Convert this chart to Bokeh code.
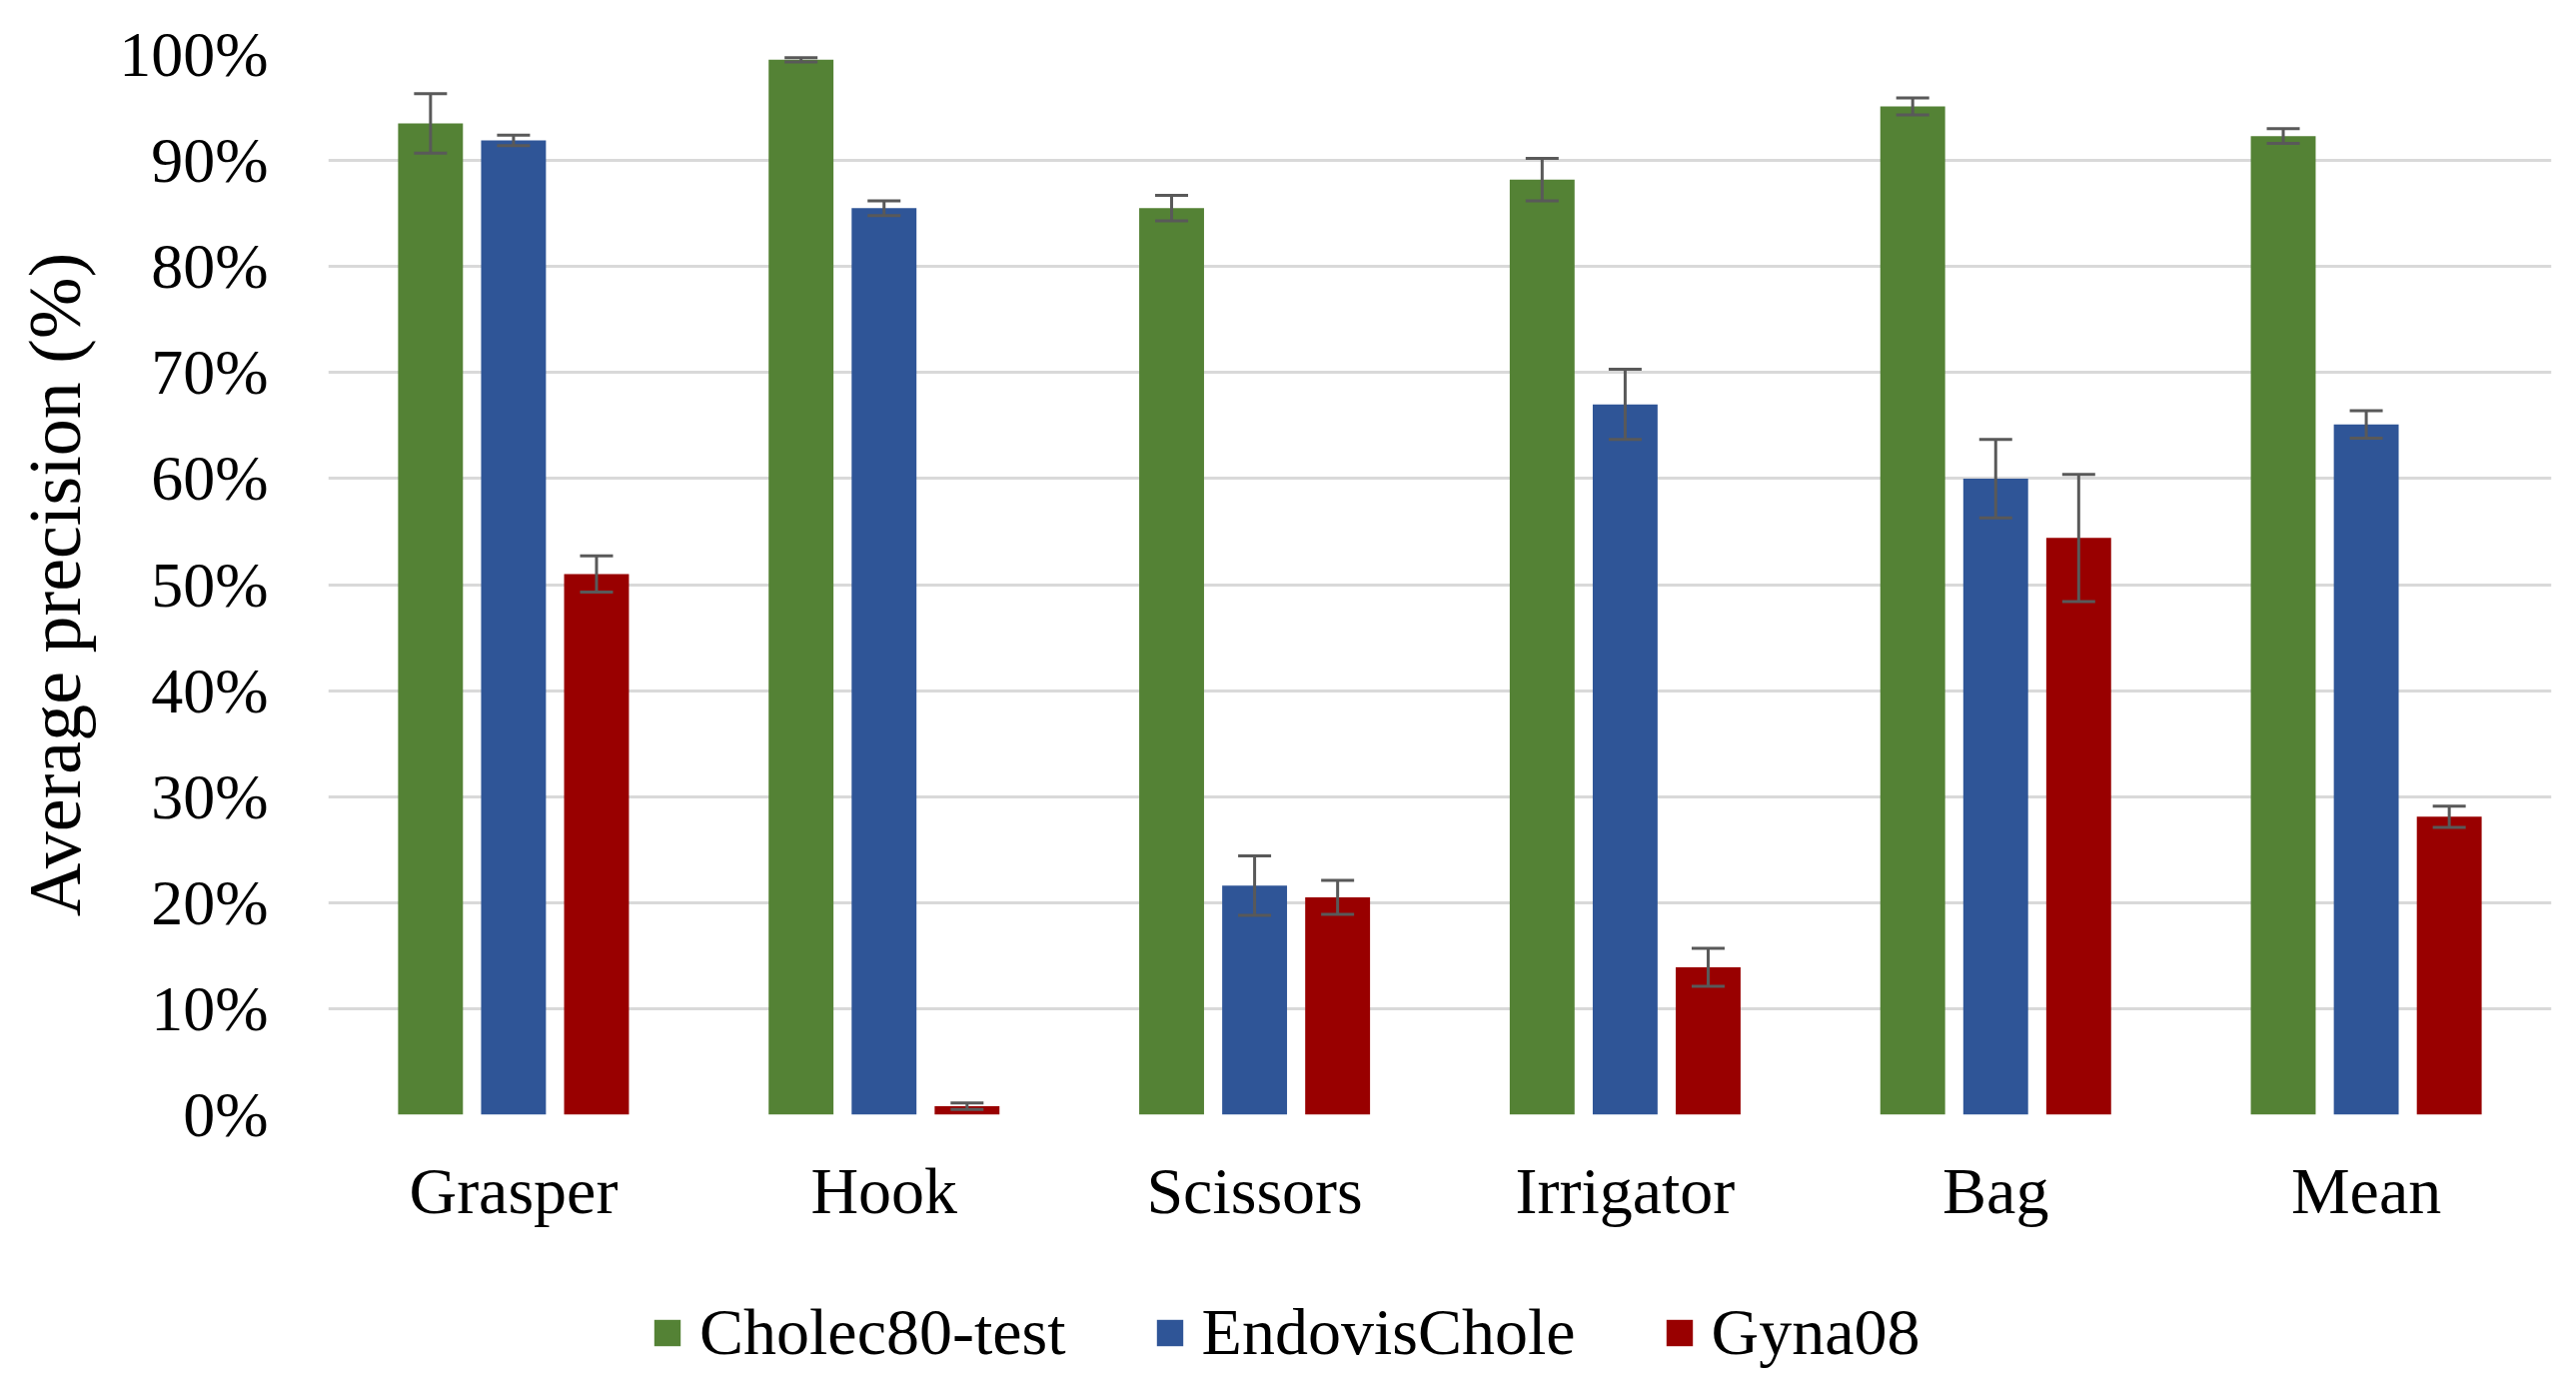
from bokeh.plotting import figure
from bokeh.layouts import column
from bokeh.models import (ColumnDataSource, FactorRange, Range1d, FixedTicker,
                          PrintfTickFormatter, Whisker, TeeHead, Legend, LegendItem)
from bokeh.transform import dodge
from bokeh.embed import file_html
from bokeh.resources import INLINE

# ---- data ----
categories = ["Grasper", "Hook", "Scissors", "Irrigator", "Bag", "Mean"]
series_names = ["Cholec80-test", "EndovisChole", "Gyna08"]
cholec = [93.5, 99.5, 85.5, 88.2, 95.1, 92.3]
cholec_err = [2.8, 0.2, 1.2, 2.0, 0.8, 0.7]
endovis = [91.9, 85.5, 21.6, 67.0, 60.0, 65.1]
endovis_err = [0.5, 0.7, 2.8, 3.3, 3.7, 1.3]
gyna = [51.0, 0.8, 20.5, 13.9, 54.4, 28.1]
gyna_err = [1.7, 0.3, 1.6, 1.8, 6.0, 1.0]
y_ticks = [0, 10, 20, 30, 40, 50, 60, 70, 80, 90, 100]

colors = ["#548235", "#2F5597", "#990000"]
FONT = "Liberation Serif"

src = ColumnDataSource(data=dict(
    cats=categories,
    c=cholec, c_up=[v + e for v, e in zip(cholec, cholec_err)], c_lo=[v - e for v, e in zip(cholec, cholec_err)],
    e=endovis, e_up=[v + e for v, e in zip(endovis, endovis_err)], e_lo=[v - e for v, e in zip(endovis, endovis_err)],
    g=gyna, g_up=[v + e for v, e in zip(gyna, gyna_err)], g_lo=[v - e for v, e in zip(gyna, gyna_err)],
))

W = 2560
H1 = 1230
H2 = 144

p = figure(width=W, height=H1, x_range=FactorRange(*categories),
           y_range=Range1d(0, 100), output_backend="svg", toolbar_location=None,
           min_border_left=328, min_border_right=7, min_border_top=54,
           min_border_bottom=H1 - 1115)
p.background_fill_color = "white"
p.border_fill_color = "white"
p.outline_line_color = None

offsets = [-0.224, 0.0, 0.224]
keys = ["c", "e", "g"]
for k, off, col in zip(keys, offsets, colors):
    p.vbar(x=dodge("cats", off, range=p.x_range), top=k, width=0.175,
           source=src, fill_color=col, line_color=None)
    w = Whisker(base=dodge("cats", off, range=p.x_range), upper=k + "_up", lower=k + "_lo",
                source=src, line_color="#595959", line_width=3, level="overlay",
                upper_head=TeeHead(size=33, line_color="#595959", line_width=3),
                lower_head=TeeHead(size=33, line_color="#595959", line_width=3))
    p.add_layout(w)

# grid
p.xgrid.grid_line_color = None
p.ygrid.grid_line_color = "#D9D9D9"
p.ygrid.grid_line_width = 3

# y axis
p.yaxis.ticker = FixedTicker(ticks=y_ticks)
p.yaxis.formatter = PrintfTickFormatter(format="%d%%")
p.yaxis.axis_line_color = None
p.yaxis.major_tick_line_color = None
p.yaxis.minor_tick_line_color = None
p.yaxis.major_tick_out = 0
p.yaxis.major_tick_in = 0
p.yaxis.major_label_standoff = 60
p.yaxis.major_label_text_font = FONT
p.yaxis.major_label_text_font_size = "64px"
p.yaxis.major_label_text_color = "black"
p.yaxis.axis_label = "Average precision (%)"
p.yaxis.axis_label_text_font = FONT
p.yaxis.axis_label_text_font_size = "74px"
p.yaxis.axis_label_text_font_style = "normal"
p.yaxis.axis_label_text_color = "black"
p.yaxis.axis_label_standoff = 20

# x axis
p.xaxis.axis_line_color = None
p.xaxis.major_tick_line_color = None
p.xaxis.major_tick_out = 0
p.xaxis.major_tick_in = 0
p.xaxis.major_label_standoff = 39
p.xaxis.major_label_text_font = FONT
p.xaxis.major_label_text_font_size = "66px"
p.xaxis.major_label_text_color = "black"

# legend strip: degenerate (zero-size, out-of-view) bar renderers used only for the swatches
p2 = figure(width=W, height=H2, x_range=FactorRange(*categories), y_range=Range1d(-2, -1),
            output_backend="svg", toolbar_location=None,
            x_axis_location=None, y_axis_location=None,
            min_border=0, min_border_left=0, min_border_right=0,
            min_border_top=0, min_border_bottom=0)
p2.grid.visible = False
p2.outline_line_color = None
p2.background_fill_color = "white"
p2.border_fill_color = "white"
items = []
for name, k, off, col in zip(series_names, keys, offsets, colors):
    r = p2.vbar(x=dodge("cats", off, range=p2.x_range), top=k, bottom=k, width=0,
                source=src, fill_color=col, line_color=None)
    items.append(LegendItem(label=name, renderers=[r]))

legend = Legend(items=items, orientation="horizontal", location=(323, 3), margin=0, padding=0,
                glyph_width=33, glyph_height=33, label_standoff=16, spacing=87,
                label_text_font=FONT, label_text_font_size="66px", label_text_color="black",
                border_line_color=None, background_fill_alpha=0)
p2.add_layout(legend)

layout = column(p, p2, spacing=0)
open("out.html", "w").write(file_html(layout, INLINE))
